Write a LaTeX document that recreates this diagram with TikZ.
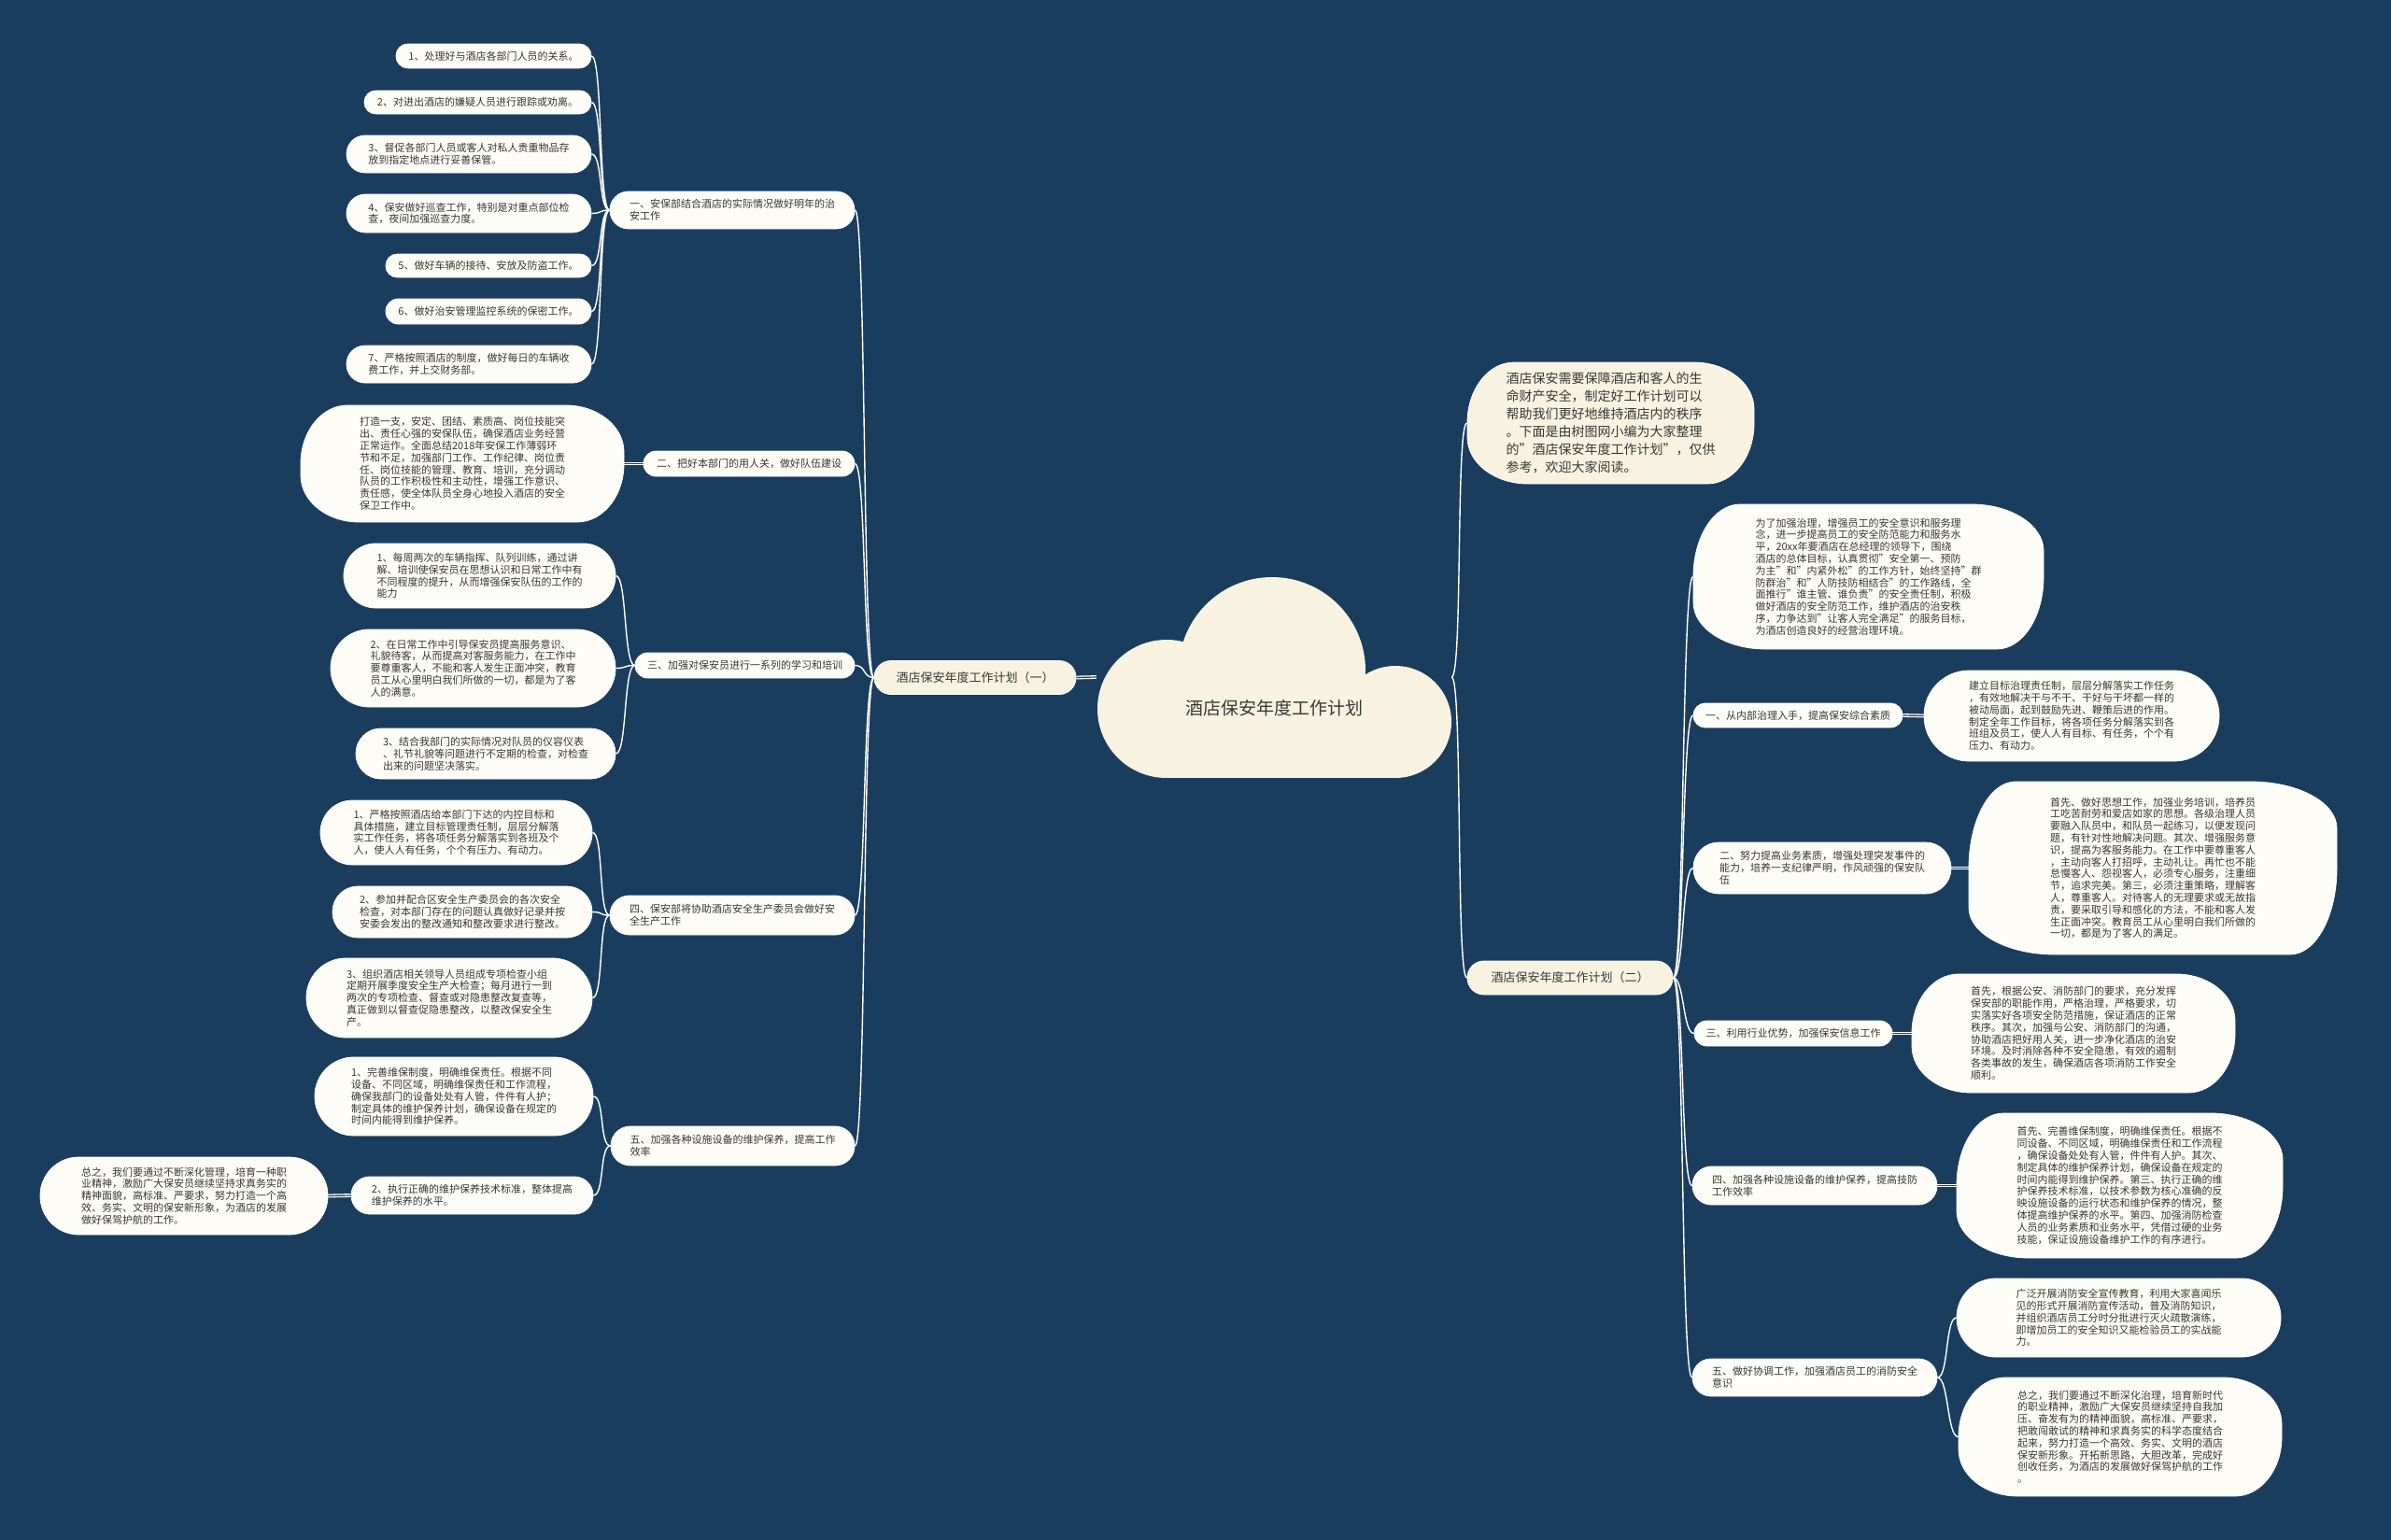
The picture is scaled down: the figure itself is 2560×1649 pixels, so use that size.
\documentclass[tikz,border=0pt]{standalone}
\usepackage{fontspec}
\setmainfont{Noto Sans CJK SC}
\usepackage{xcolor}
\usetikzlibrary{positioning}

\definecolor{navy}{RGB}{26,61,94}
\definecolor{cream}{RGB}{248,243,224}
\definecolor{paper}{RGB}{253,252,246}
\definecolor{ink}{RGB}{55,55,55}

\pgfdeclarelayer{backdrop}
\pgfdeclarelayer{links}
\pgfsetlayers{backdrop,links,main}

\tikzset{
  ell corners/.code 2 args={\pgfsetcornersarced{\pgfpoint{#1}{#2}}},
  sz/.style 2 args={minimum width=#1pt, minimum height=#2pt,
    ell corners={min(#2/2-0.2,50)}{#2/2-0.2}},
  leaf/.style={draw=white, line width=0.8pt, fill=paper, text=ink, align=left,
    inner sep=2pt, font=\fontsize{11}{12.8}\selectfont},
  topic/.style={leaf, fill=cream, font=\fontsize{13}{15}\selectfont},
  intro/.style={leaf, fill=cream, font=\fontsize{14}{19}\selectfont},
  rootnode/.style={inner sep=0pt, minimum width=380pt, text height=148pt,
    text depth=68pt, text=ink, font=\fontsize{19}{22}\selectfont},
  link/.style={draw=white, line width=1.4pt},
  twin/.style={draw=white, line width=1.3pt, double=navy, double distance=1.2pt},
}

\begin{document}
\begin{tikzpicture}[x=1pt,y=-1pt]
  \begin{pgfonlayer}{backdrop}
    \fill[navy] (0,0) rectangle (2560,1649);
  \end{pgfonlayer}
  \useasboundingbox (0,0) rectangle (2560,1649);

  % Cloud in the middle
  \fill[cream] (1362,718) circle[radius=100pt];
  \fill[cream] (1249,759) circle[radius=74pt];
  \fill[cream] (1494,773) circle[radius=60pt];
  \fill[cream] (1249,740) rectangle (1494,833);
  \node[rootnode] (root) at (1364,725) {酒店保安年度工作计划};

  % Plan (1)
  \node[topic, sz={216}{36}] (PL) at (1044,725.5) {酒店保安年度工作计划（一）};

  \node[leaf, sz={262}{40}] (B1) at (784,225) {一、安保部结合酒店的实际情况做好明年的治\\安工作};
  \node[leaf, sz={209}{26}] (L1) at (528.5,60) {1、处理好与酒店各部门人员的关系。};
  \node[leaf, sz={243}{25}] (L2) at (511.5,109.5) {2、对进出酒店的嫌疑人员进行跟踪或劝离。};
  \node[leaf, sz={262}{40}] (L3) at (502,165) {3、督促各部门人员或客人对私人贵重物品存\\放到指定地点进行妥善保管。};
  \node[leaf, sz={262}{41}] (L4) at (502,228.5) {4、保安做好巡查工作，特别是对重点部位检\\查，夜间加强巡查力度。};
  \node[leaf, sz={220}{25}] (L5) at (523,284.5) {5、做好车辆的接待、安放及防盗工作。};
  \node[leaf, sz={220}{27}] (L6) at (523,333.5) {6、做好治安管理监控系统的保密工作。};
  \node[leaf, sz={262}{40}] (L7) at (502,390) {7、严格按照酒店的制度，做好每日的车辆收\\费工作，并上交财务部。};

  \node[leaf, sz={226}{27}] (B2) at (802,496.5) {二、把好本部门的用人关，做好队伍建设};
  \node[leaf, sz={346}{125}] (S2) at (495,496.5) {打造一支，安定、团结、素质高、岗位技能突\\出、责任心强的安保队伍，确保酒店业务经营\\正常运作。全面总结2018年安保工作薄弱环\\节和不足，加强部门工作、工作纪律、岗位责\\任、岗位技能的管理、教育、培训，充分调动\\队员的工作积极性和主动性，增强工作意识、\\责任感，使全体队员全身心地投入酒店的安全\\保卫工作中。};

  \node[leaf, sz={235}{27}] (B3) at (797.5,712.5) {三、加强对保安员进行一系列的学习和培训};
  \node[leaf, sz={291}{69}] (T1) at (513.5,616.5) {1、每周两次的车辆指挥、队列训练，通过讲\\解、培训使保安员在思想认识和日常工作中有\\不同程度的提升，从而增强保安队伍的工作的\\能力};
  \node[leaf, sz={305}{83}] (T2) at (506.5,715.5) {2、在日常工作中引导保安员提高服务意识、\\礼貌待客，从而提高对客服务能力，在工作中\\要尊重客人，不能和客人发生正面冲突，教育\\员工从心里明白我们所做的一切，都是为了客\\人的满意。};
  \node[leaf, sz={278}{54}] (T3) at (520,807) {3、结合我部门的实际情况对队员的仪容仪表\\、礼节礼貌等问题进行不定期的检查，对检查\\出来的问题坚决落实。};

  \node[leaf, sz={262}{42}] (B4) at (784,980) {四、保安部将协助酒店安全生产委员会做好安\\全生产工作};
  \node[leaf, sz={291}{69}] (F1) at (488.5,891.5) {1、严格按照酒店给本部门下达的内控目标和\\具体措施，建立目标管理责任制，层层分解落\\实工作任务，将各项任务分解落实到各班及个\\人，使人人有任务，个个有压力、有动力。};
  \node[leaf, sz={278}{55}] (F2) at (495,976.5) {2、参加并配合区安全生产委员会的各次安全\\检查，对本部门存在的问题认真做好记录并按\\安委会发出的整改通知和整改要求进行整改。};
  \node[leaf, sz={306}{85}] (F3) at (481,1068.5) {3、组织酒店相关领导人员组成专项检查小组\\定期开展季度安全生产大检查；每月进行一到\\两次的专项检查、督查或对隐患整改复查等，\\真正做到以督查促隐患整改，以整改保安全生\\产。};

  \node[leaf, sz={261}{42}] (B5) at (784.5,1227) {五、加强各种设施设备的维护保养，提高工作\\效率};
  \node[leaf, sz={298}{84}] (V1) at (486,1174) {1、完善维保制度，明确维保责任。根据不同\\设备、不同区域，明确维保责任和工作流程，\\确保我部门的设备处处有人管，件件有人护；\\制定具体的维护保养计划，确保设备在规定的\\时间内能得到维护保养。};
  \node[leaf, sz={259}{40}] (V2) at (505.5,1280) {2、执行正确的维护保养技术标准，整体提高\\维护保养的水平。};
  \node[leaf, sz={308}{83}] (Z) at (197,1280.5) {总之，我们要通过不断深化管理，培育一种职\\业精神，激励广大保安员继续坚持求真务实的\\精神面貌，高标准、严要求，努力打造一个高\\效、务实、文明的保安新形象，为酒店的发展\\做好保驾护航的工作。};

  % Intro text
  \node[intro, sz={307}{130}] (I0) at (1724.5,453) {酒店保安需要保障酒店和客人的生\\命财产安全，制定好工作计划可以\\帮助我们更好地维持酒店内的秩序\\。下面是由树图网小编为大家整理\\的"酒店保安年度工作计划"，仅供\\参考，欢迎大家阅读。};

  % Plan (2)
  \node[topic, sz={220}{36}] (PR) at (1681,1047) {酒店保安年度工作计划（二）};

  \node[leaf, sz={375}{155}] (P1) at (2000.5,617.5) {为了加强治理，增强员工的安全意识和服务理\\念，进一步提高员工的安全防范能力和服务水\\平，20xx年要酒店在总经理的领导下，围绕\\酒店的总体目标，认真贯彻"安全第一、预防\\为主"和"内紧外松"的工作方针，始终坚持"群\\防群治"和"人防技防相结合"的工作路线，全\\面推行"谁主管、谁负责"的安全责任制，积极\\做好酒店的安全防范工作，维护酒店的治安秩\\序，力争达到"让客人完全满足"的服务目标，\\为酒店创造良好的经营治理环境。};

  \node[leaf, sz={224}{26}] (R1) at (1925,766) {一、从内部治理入手，提高保安综合素质};
  \node[leaf, sz={316}{97}] (Q1) at (2218,766.5) {建立目标治理责任制，层层分解落实工作任务\\，有效地解决干与不干、干好与干坏都一样的\\被动局面，起到鼓励先进、鞭策后进的作用。\\制定全年工作目标，将各项任务分解落实到各\\班组及员工，使人人有目标、有任务，个个有\\压力、有动力。};

  \node[leaf, sz={276}{55}] (R2) at (1951,929.5) {二、努力提高业务素质，增强处理突发事件的\\能力，培养一支纪律严明，作风顽强的保安队\\伍};
  \node[leaf, sz={394}{185}] (Q2) at (2305,929.5) {首先、做好思想工作，加强业务培训，培养员\\工吃苦耐劳和爱店如家的思想。各级治理人员\\要融入队员中，和队员一起练习，以便发现问\\题，有针对性地解决问题。其次、增强服务意\\识，提高为客服务能力。在工作中要尊重客人\\，主动向客人打招呼，主动礼让。再忙也不能\\怠慢客人、怨视客人，必须专心服务，注重细\\节，追求完美。第三，必须注重策略，理解客\\人，尊重客人。对待客人的无理要求或无故指\\责，要采取引导和感化的方法，不能和客人发\\生正面冲突。教育员工从心里明白我们所做的\\一切，都是为了客人的满足。};

  \node[leaf, sz={212}{27}] (R3) at (1920,1106.5) {三、利用行业优势，加强保安信息工作};
  \node[leaf, sz={346}{127}] (Q3) at (2220,1106.5) {首先，根据公安、消防部门的要求，充分发挥\\保安部的职能作用，严格治理，严格要求，切\\实落实好各项安全防范措施，保证酒店的正常\\秩序。其次，加强与公安、消防部门的沟通，\\协助酒店把好用人关，进一步净化酒店的治安\\环境。及时消除各种不安全隐患，有效的遏制\\各类事故的发生，确保酒店各项消防工作安全\\顺利。};

  \node[leaf, sz={262}{41}] (R4) at (1943,1269.5) {四、加强各种设施设备的维护保养，提高技防\\工作效率};
  \node[leaf, sz={349}{155}] (Q4) at (2269.5,1269.5) {首先、完善维保制度，明确维保责任。根据不\\同设备、不同区域，明确维保责任和工作流程\\，确保设备处处有人管，件件有人护。其次、\\制定具体的维护保养计划，确保设备在规定的\\时间内能得到维护保养。第三、执行正确的维\\护保养技术标准，以技术参数为核心准确的反\\映设施设备的运行状态和维护保养的情况，整\\体提高维护保养的水平。第四、加强消防检查\\人员的业务素质和业务水平，凭借过硬的业务\\技能，保证设施设备维护工作的有序进行。};

  \node[leaf, sz={262}{40}] (R5) at (1943,1475) {五、做好协调工作，加强酒店员工的消防安全\\意识};
  \node[leaf, sz={347}{84}] (Q5a) at (2268.5,1411) {广泛开展消防安全宣传教育，利用大家喜闻乐\\见的形式开展消防宣传活动，普及消防知识，\\并组织酒店员工分时分批进行灭火疏散演练，\\即增加员工的安全知识又能检验员工的实战能\\力。};
  \node[leaf, sz={346}{127}] (Q5b) at (2270,1538.5) {总之，我们要通过不断深化治理，培育新时代\\的职业精神，激励广大保安员继续坚持自我加\\压、奋发有为的精神面貌，高标准、严要求，\\把敢闯敢试的精神和求真务实的科学态度结合\\起来，努力打造一个高效、务实、文明的酒店\\保安新形象。开拓新思路，大胆改革，完成好\\创收任务，为酒店的发展做好保驾护航的工作\\。};

  % Connections
  \begin{pgfonlayer}{links}
    \draw[twin] (root.west) -- (PL.east);
    \draw[link] (root.east) .. controls +(12,0) and +(-12,0) .. (I0.west);
    \draw[link] (root.east) .. controls +(12,0) and +(-12,0) .. (PR.west);

    \draw[link] (PL.west) .. controls +(-12,0) and +(12,0) .. (B1.east);
    \draw[link] (PL.west) .. controls +(-12,0) and +(12,0) .. (B2.east);
    \draw[link] (PL.west) .. controls +(-12,0) and +(12,0) .. (B3.east);
    \draw[link] (PL.west) .. controls +(-12,0) and +(12,0) .. (B4.east);
    \draw[link] (PL.west) .. controls +(-12,0) and +(12,0) .. (B5.east);

    \draw[link] (B1.west) .. controls +(-12,0) and +(12,0) .. (L1.east);
    \draw[link] (B1.west) .. controls +(-12,0) and +(12,0) .. (L2.east);
    \draw[link] (B1.west) .. controls +(-12,0) and +(12,0) .. (L3.east);
    \draw[link] (B1.west) .. controls +(-12,0) and +(12,0) .. (L4.east);
    \draw[link] (B1.west) .. controls +(-12,0) and +(12,0) .. (L5.east);
    \draw[link] (B1.west) .. controls +(-12,0) and +(12,0) .. (L6.east);
    \draw[link] (B1.west) .. controls +(-12,0) and +(12,0) .. (L7.east);
    \draw[twin] (B2.west) -- (S2.east);
    \draw[link] (B3.west) .. controls +(-12,0) and +(12,0) .. (T1.east);
    \draw[link] (B3.west) .. controls +(-12,0) and +(12,0) .. (T2.east);
    \draw[link] (B3.west) .. controls +(-12,0) and +(12,0) .. (T3.east);
    \draw[link] (B4.west) .. controls +(-12,0) and +(12,0) .. (F1.east);
    \draw[link] (B4.west) .. controls +(-12,0) and +(12,0) .. (F2.east);
    \draw[link] (B4.west) .. controls +(-12,0) and +(12,0) .. (F3.east);
    \draw[link] (B5.west) .. controls +(-12,0) and +(12,0) .. (V1.east);
    \draw[link] (B5.west) .. controls +(-12,0) and +(12,0) .. (V2.east);
    \draw[twin] (V2.west) -- (Z.east);

    \draw[link] (PR.east) .. controls +(12,0) and +(-12,0) .. (P1.west);
    \draw[link] (PR.east) .. controls +(12,0) and +(-12,0) .. (R1.west);
    \draw[link] (PR.east) .. controls +(12,0) and +(-12,0) .. (R2.west);
    \draw[link] (PR.east) .. controls +(12,0) and +(-12,0) .. (R3.west);
    \draw[link] (PR.east) .. controls +(12,0) and +(-12,0) .. (R4.west);
    \draw[link] (PR.east) .. controls +(12,0) and +(-12,0) .. (R5.west);

    \draw[twin] (R1.east) -- (Q1.west);
    \draw[twin] (R2.east) -- (Q2.west);
    \draw[twin] (R3.east) -- (Q3.west);
    \draw[twin] (R4.east) -- (Q4.west);
    \draw[link] (R5.east) .. controls +(12,0) and +(-12,0) .. (Q5a.west);
    \draw[link] (R5.east) .. controls +(12,0) and +(-12,0) .. (Q5b.west);
  \end{pgfonlayer}
\end{tikzpicture}
\end{document}
